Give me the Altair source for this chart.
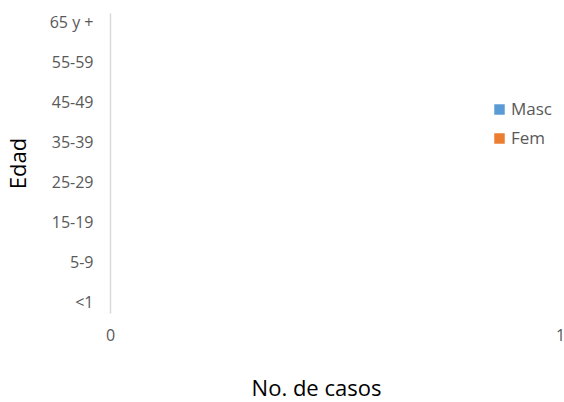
import altair as alt
import pandas as pd

# Age groups, bottom to top
grupos = ["<1", "1-4", "5-9", "10-14", "15-19", "20-24", "25-29", "30-34",
          "35-39", "40-44", "45-49", "50-54", "55-59", "60-64", "65 y +"]
masc = [0] * len(grupos)
fem = [0] * len(grupos)
sexos = ["Masc", "Fem"]
colores = ["#5B9BD5", "#ED7D31"]

df = pd.DataFrame(
    [{"Edad": g, "Sexo": "Masc", "Casos": m} for g, m in zip(grupos, masc)]
    + [{"Edad": g, "Sexo": "Fem", "Casos": f} for g, f in zip(grupos, fem)]
)

FONT = "Open Sans"
GRIS = "#595959"

chart = alt.Chart(df).mark_bar().encode(
    y=alt.Y(
        "Edad:N",
        sort=list(reversed(grupos)),
        scale=alt.Scale(paddingInner=0.3, paddingOuter=0.15),
        axis=alt.Axis(
            title="Edad",
            values=grupos[::2],
            ticks=False,
            domainColor="#D9D9D9",
            domainWidth=1.5,
            labelColor=GRIS,
            labelFont=FONT,
            labelFontSize=16,
            labelPadding=17,
            titleFont=FONT,
            titleFontSize=22,
            titleFontWeight="normal",
            titleColor="black",
            titlePadding=19,
        ),
    ),
    yOffset=alt.YOffset("Sexo:N", sort=sexos),
    x=alt.X(
        "Casos:Q",
        scale=alt.Scale(domain=[0, 1], nice=False),
        axis=alt.Axis(
            title="No. de casos",
            titleX=206,
            values=[0, 1],
            format="d",
            ticks=False,
            domain=False,
            grid=False,
            labelFlush=False,
            labelColor=GRIS,
            labelFont=FONT,
            labelFontSize=16,
            labelPadding=14,
            titleFont=FONT,
            titleFontSize=22,
            titleFontWeight="normal",
            titleColor="black",
            titlePadding=35,
        ),
    ),
    color=alt.Color(
        "Sexo:N",
        sort=sexos,
        scale=alt.Scale(domain=sexos, range=colores),
        legend=alt.Legend(
            title=None,
            orient="none",
            legendX=381,
            legendY=88,
            symbolType="square",
            symbolSize=110,
            symbolStrokeWidth=0,
            labelFont=FONT,
            labelFontSize=17,
            labelColor=GRIS,
            labelOffset=3,
            rowPadding=11,
        ),
    ),
).properties(
    width=450,
    height=300,
    padding={"left": 110, "top": 13, "right": 4, "bottom": 89},
    autosize=alt.AutoSizeParams(type="none"),
).configure_view(stroke=None)

chart.save("out.html", embed_options={"renderer": "svg", "actions": False})
